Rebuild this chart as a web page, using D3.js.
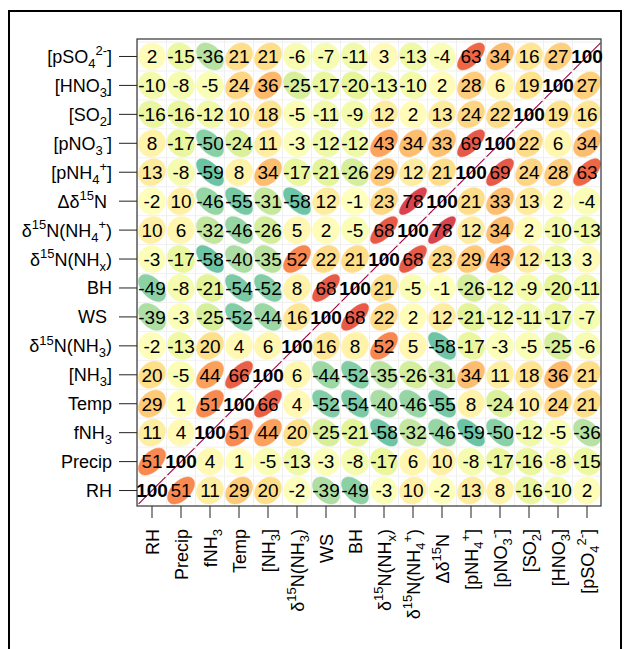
<!DOCTYPE html>
<html>
<head>
<meta charset="utf-8">
<script src="https://cdn.jsdelivr.net/npm/d3@7"></script>
<style>
  body { margin: 0; background: #fff; }
  svg { display: block; font-family: "Liberation Sans", Arial, sans-serif; }
</style>
</head>
<body>
<div id="chart"></div>
<script>
// variable keys, bottom-left to top-right order (x axis left->right, y axis bottom->top)
const variables = ["RH", "Precip", "fNH3", "Temp", "NH3", "d15NH3", "WS", "BH",
  "d15NHx", "d15NH4", "Dd15N", "pNH4", "pNO3", "SO2", "HNO3", "pSO4"];

// tick labels as [text, kind] pieces (kind: sub / sup)
const labelParts = {
  RH: [["RH"]],
  Precip: [["Precip"]],
  fNH3: [["fNH"], ["3", "sub"]],
  Temp: [["Temp"]],
  NH3: [["[NH"], ["3", "sub"], ["]"]],
  d15NH3: [["δ"], ["15", "sup"], ["N(NH"], ["3", "sub"], [")"]],
  WS: [["WS "]],
  BH: [["BH"]],
  d15NHx: [["δ"], ["15", "sup"], ["N(NH"], ["x", "sub"], [")"]],
  d15NH4: [["δ"], ["15", "sup"], ["N(NH"], ["4", "sub"], ["+", "sup"], [")"]],
  Dd15N: [["Δδ"], ["15", "sup"], ["N "]],
  pNH4: [["[pNH"], ["4", "sub"], ["+", "sup"], ["]"]],
  pNO3: [["[pNO"], ["3", "sub"], ["-", "sup"], ["]"]],
  SO2: [["[SO"], ["2", "sub"], ["]"]],
  HNO3: [["[HNO"], ["3", "sub"], ["]"]],
  pSO4: [["[pSO"], ["4", "sub"], ["2-", "sup"], ["]"]]
};

// correlation (x100) rows, each listed in the x order of `variables`
const rowRH     = [100, 51, 11, 29, 20, -2, -39, -49, -3, 10, -2, 13, 8, -16, -10, 2];
const rowPrecip = [51, 100, 4, 1, -5, -13, -3, -8, -17, 6, 10, -8, -17, -16, -8, -15];
const rowFNH3   = [11, 4, 100, 51, 44, 20, -25, -21, -58, -32, -46, -59, -50, -12, -5, -36];
const rowTemp   = [29, 1, 51, 100, 66, 4, -52, -54, -40, -46, -55, 8, -24, 10, 24, 21];
const rowNH3    = [20, -5, 44, 66, 100, 6, -44, -52, -35, -26, -31, 34, 11, 18, 36, 21];
const rowD15NH3 = [-2, -13, 20, 4, 6, 100, 16, 8, 52, 5, -58, -17, -3, -5, -25, -6];
const rowWS     = [-39, -3, -25, -52, -44, 16, 100, 68, 22, 2, 12, -21, -12, -11, -17, -7];
const rowBH     = [-49, -8, -21, -54, -52, 8, 68, 100, 21, -5, -1, -26, -12, -9, -20, -11];
const rowD15NHx = [-3, -17, -58, -40, -35, 52, 22, 21, 100, 68, 23, 29, 43, 12, -13, 3];
const rowD15NH4 = [10, 6, -32, -46, -26, 5, 2, -5, 68, 100, 78, 12, 34, 2, -10, -13];
const rowDd15N  = [-2, 10, -46, -55, -31, -58, 12, -1, 23, 78, 100, 21, 33, 13, 2, -4];
const rowPNH4   = [13, -8, -59, 8, 34, -17, -21, -26, 29, 12, 21, 100, 69, 24, 28, 63];
const rowPNO3   = [8, -17, -50, -24, 11, -3, -12, -12, 43, 34, 33, 69, 100, 22, 6, 34];
const rowSO2    = [-16, -16, -12, 10, 18, -5, -11, -9, 12, 2, 13, 24, 22, 100, 19, 16];
const rowHNO3   = [-10, -8, -5, 24, 36, -25, -17, -20, -13, -10, 2, 28, 6, 19, 100, 27];
const rowPSO4   = [2, -15, -36, 21, 21, -6, -7, -11, 3, -13, -4, 63, 34, 16, 27, 100];

const rows = [rowRH, rowPrecip, rowFNH3, rowTemp, rowNH3, rowD15NH3, rowWS, rowBH,
  rowD15NHx, rowD15NH4, rowDd15N, rowPNH4, rowPNO3, rowSO2, rowHNO3, rowPSO4];

// reversed Spectral palette, -1 .. 1
const paletteColors = ["#5E4FA2", "#3288BD", "#66C2A5", "#ABDDA4", "#E6F598", "#FFFFBF",
  "#FEE08B", "#FDAE61", "#F46D43", "#D53E4F", "#9E0142"];

const width = 624, height = 649;
const svg = d3.select("#chart").append("svg")
  .attr("width", width)
  .attr("height", height);

// outer frame
svg.append("rect")
  .attr("x", 9).attr("y", 11)
  .attr("width", 612).attr("height", 660)
  .attr("fill", "none")
  .attr("stroke", "#000")
  .attr("stroke-width", 2);

const x = d3.scaleBand().domain(variables).range([137.5, 601.5]);
const y = d3.scaleBand().domain(variables).range([505, 42]);
const cw = x.bandwidth(), ch = y.bandwidth();

const color = d3.scaleLinear()
  .domain(d3.range(11).map(i => -1 + i * 0.2))
  .range(paletteColors);

const cells = [];
rows.forEach((row, i) => {
  row.forEach((v, j) => cells.push({ xv: variables[j], yv: variables[i], value: v }));
});

// light grid
const grid = svg.append("g").attr("stroke", "#ececec").attr("stroke-width", 0.8);
variables.forEach(v => {
  grid.append("line").attr("x1", x(v)).attr("x2", x(v)).attr("y1", 39).attr("y2", 506);
  grid.append("line").attr("x1", 137).attr("x2", 601).attr("y1", y(v)).attr("y2", y(v));
});

// ellipse shape (corrplot style)
const scaleE = 0.93;
function ellipse(d) {
  const rho = Math.max(-1, Math.min(1, d.value / 100));
  const a = Math.acos(rho);
  const cx = x(d.xv) + cw / 2, cy = y(d.yv) + ch / 2;
  const pts = d3.range(100).map(i => {
    const t = 2 * Math.PI * i / 99;
    return [cx + Math.cos(t + a / 2) / 2 * cw * scaleE,
            cy - Math.cos(t - a / 2) / 2 * ch * scaleE];
  });
  return d3.line()(pts) + "Z";
}

svg.append("g").selectAll("path")
  .data(cells)
  .enter()
  .append("path")
  .attr("d", ellipse)
  .attr("fill", d => color(d.value / 100))
  .attr("stroke", d => color(d.value / 100))
  .attr("stroke-width", d => d.value === 100 ? 1.1 : 0.6);

// plot box
svg.append("rect")
  .attr("x", 137).attr("y", 39)
  .attr("width", 464).attr("height", 467)
  .attr("fill", "none")
  .attr("stroke", "#333")
  .attr("stroke-width", 1.2);

// coefficients
svg.append("g").selectAll("text")
  .data(cells)
  .enter()
  .append("text")
  .attr("x", d => x(d.xv) + cw / 2)
  .attr("y", d => y(d.yv) + ch / 2)
  .attr("dy", "0.36em")
  .attr("text-anchor", "middle")
  .attr("font-size", 19)
  .attr("font-weight", d => d.value === 100 ? "bold" : "normal")
  .attr("fill", "#000")
  .text(d => String(d.value));

// label with sub/superscripts
function addLabel(sel, key) {
  let shift = 0;
  labelParts[key].forEach(([txt, kind]) => {
    const target = kind === "sub" ? 5 : kind === "sup" ? -7.5 : 0;
    sel.append("tspan")
      .attr("dy", target - shift)
      .attr("font-size", kind ? 13 : 18)
      .text(txt);
    shift = target;
  });
}

// y axis
const yAxis = svg.append("g");
variables.forEach(v => {
  const cy = y(v) + ch / 2;
  yAxis.append("line")
    .attr("x1", 119).attr("x2", 137)
    .attr("y1", cy).attr("y2", cy)
    .attr("stroke", "#222");
  const t = yAxis.append("text")
    .attr("x", 112).attr("y", cy + 6.5)
    .attr("text-anchor", "end")
    .attr("font-size", 18)
    .style("white-space", "pre");
  addLabel(t, v);
});

// x axis
const xAxis = svg.append("g");
variables.forEach(v => {
  const cx = x(v) + cw / 2;
  xAxis.append("line")
    .attr("x1", cx).attr("x2", cx)
    .attr("y1", 506).attr("y2", 518)
    .attr("stroke", "#222");
  const t = xAxis.append("text")
    .attr("transform", `translate(${cx + 6.5},529) rotate(-90)`)
    .attr("text-anchor", "end")
    .attr("font-size", 18)
    .style("white-space", "pre");
  addLabel(t, v);
});
</script>
</body>
</html>
